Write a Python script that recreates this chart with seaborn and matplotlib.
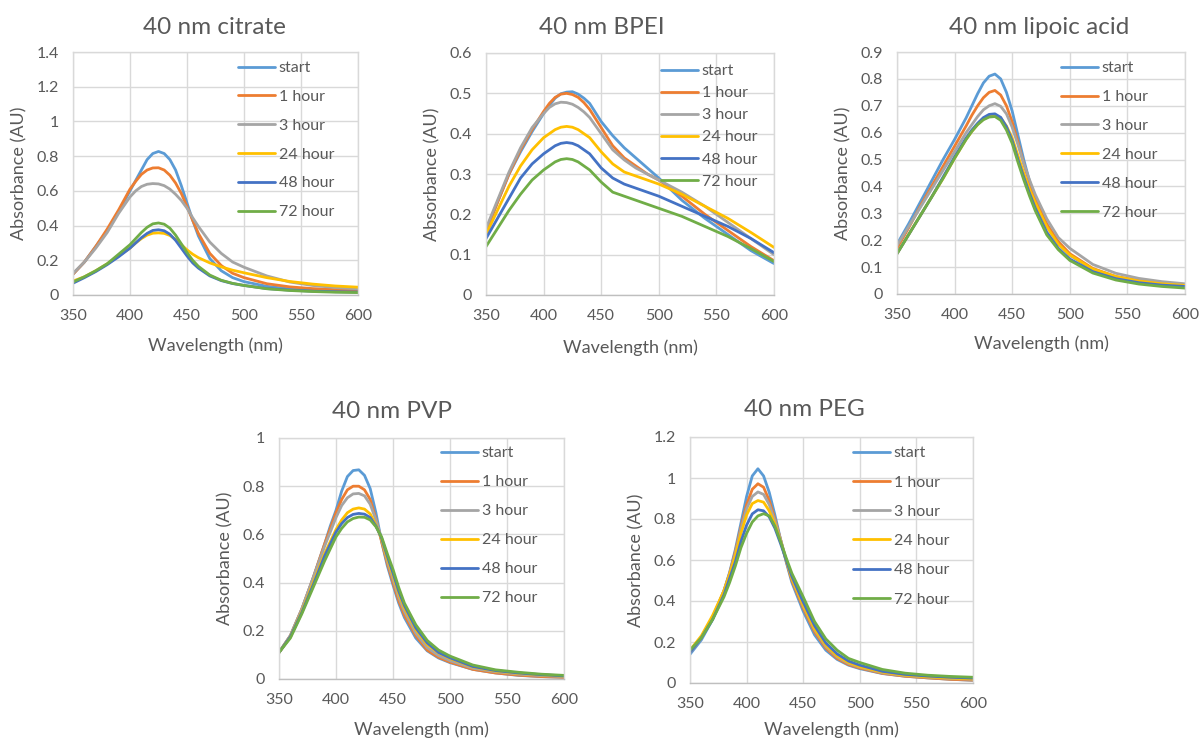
import matplotlib
matplotlib.use("Agg")
import matplotlib.pyplot as plt
import numpy as np
import pandas as pd
import seaborn as sns

# ==========================================
# Data (absorbance)
# ==========================================

TIMES = ["start", "1 hour", "3 hour", "24 hour", "48 hour", "72 hour"]
COLORS = ["#5B9BD5", "#ED7D31", "#A5A5A5", "#FFC000", "#4472C4", "#70AD47"]
X_TICKS = [350, 400, 450, 500, 550, 600]

CITRATE_NM = [350, 360, 370, 380, 390, 400, 405, 410, 415, 420, 425, 430, 435, 440,
              445, 450, 455, 460, 470, 480, 490, 500, 520, 540, 560, 580, 600]
CITRATE_START = [0.12, 0.19, 0.28, 0.37, 0.48, 0.60, 0.66, 0.72, 0.78, 0.815, 0.827, 0.815, 0.78, 0.72,
                 0.63, 0.53, 0.43, 0.34, 0.21, 0.14, 0.10, 0.077, 0.05, 0.035, 0.028, 0.023, 0.02]
CITRATE_1H = [0.12, 0.19, 0.28, 0.38, 0.49, 0.61, 0.655, 0.695, 0.72, 0.732, 0.733, 0.72, 0.69, 0.645,
              0.585, 0.51, 0.43, 0.355, 0.24, 0.17, 0.125, 0.10, 0.065, 0.047, 0.037, 0.031, 0.028]
CITRATE_3H = [0.125, 0.19, 0.27, 0.36, 0.47, 0.565, 0.60, 0.625, 0.638, 0.642, 0.64, 0.63, 0.61, 0.58,
              0.545, 0.50, 0.445, 0.395, 0.305, 0.24, 0.19, 0.16, 0.11, 0.075, 0.055, 0.043, 0.035]
CITRATE_24H = [0.08, 0.105, 0.14, 0.18, 0.225, 0.27, 0.30, 0.325, 0.345, 0.356, 0.358, 0.355, 0.343, 0.32,
               0.29, 0.26, 0.235, 0.215, 0.185, 0.162, 0.143, 0.128, 0.10, 0.078, 0.063, 0.052, 0.045]
CITRATE_48H = [0.068, 0.10, 0.135, 0.175, 0.22, 0.27, 0.30, 0.33, 0.355, 0.372, 0.376, 0.37, 0.35, 0.315,
               0.27, 0.225, 0.185, 0.155, 0.11, 0.083, 0.066, 0.055, 0.037, 0.028, 0.022, 0.019, 0.017]
CITRATE_72H = [0.075, 0.105, 0.14, 0.18, 0.235, 0.29, 0.325, 0.36, 0.39, 0.41, 0.415, 0.408, 0.385, 0.345,
               0.295, 0.245, 0.20, 0.165, 0.115, 0.085, 0.067, 0.055, 0.036, 0.026, 0.02, 0.016, 0.014]

BPEI_NM = [350, 360, 370, 380, 390, 400, 405, 410, 415, 420, 425, 430, 435, 440,
           450, 460, 470, 480, 490, 500, 520, 540, 560, 580, 600]
BPEI_START = [0.155, 0.23, 0.30, 0.355, 0.405, 0.45, 0.47, 0.488, 0.499, 0.503, 0.504, 0.498, 0.488, 0.475,
              0.43, 0.395, 0.365, 0.34, 0.315, 0.29, 0.235, 0.19, 0.15, 0.11, 0.078]
BPEI_1H = [0.16, 0.23, 0.30, 0.36, 0.41, 0.455, 0.475, 0.49, 0.498, 0.50, 0.497, 0.49, 0.477, 0.46,
           0.415, 0.37, 0.34, 0.32, 0.30, 0.285, 0.245, 0.20, 0.16, 0.12, 0.085]
BPEI_3H = [0.165, 0.235, 0.305, 0.365, 0.415, 0.45, 0.465, 0.474, 0.478, 0.477, 0.473, 0.465, 0.454, 0.44,
           0.40, 0.36, 0.335, 0.315, 0.30, 0.285, 0.255, 0.22, 0.18, 0.14, 0.10]
BPEI_24H = [0.15, 0.21, 0.27, 0.32, 0.36, 0.39, 0.40, 0.41, 0.416, 0.418, 0.416, 0.41, 0.40, 0.39,
            0.355, 0.325, 0.305, 0.295, 0.285, 0.275, 0.25, 0.22, 0.19, 0.155, 0.118]
BPEI_48H = [0.14, 0.19, 0.24, 0.29, 0.325, 0.35, 0.36, 0.37, 0.376, 0.378, 0.376, 0.37, 0.36, 0.35,
            0.315, 0.29, 0.275, 0.265, 0.255, 0.245, 0.22, 0.195, 0.17, 0.14, 0.105]
BPEI_72H = [0.12, 0.165, 0.21, 0.25, 0.285, 0.31, 0.32, 0.33, 0.336, 0.338, 0.336, 0.33, 0.32, 0.31,
            0.28, 0.255, 0.245, 0.235, 0.225, 0.215, 0.195, 0.17, 0.145, 0.115, 0.083]

LIPOIC_NM = [350, 360, 370, 380, 390, 400, 410, 415, 420, 425, 430, 435, 440, 445,
             450, 455, 460, 465, 470, 480, 490, 500, 520, 540, 560, 580, 600]
LIPOIC_START = [0.185, 0.26, 0.34, 0.42, 0.50, 0.575, 0.655, 0.70, 0.745, 0.785, 0.81, 0.818, 0.80, 0.75,
                0.68, 0.59, 0.50, 0.42, 0.355, 0.26, 0.19, 0.145, 0.09, 0.062, 0.048, 0.04, 0.035]
LIPOIC_1H = [0.17, 0.245, 0.325, 0.40, 0.475, 0.55, 0.625, 0.665, 0.70, 0.73, 0.75, 0.757, 0.74, 0.70,
             0.64, 0.565, 0.485, 0.415, 0.355, 0.26, 0.195, 0.15, 0.095, 0.065, 0.05, 0.04, 0.035]
LIPOIC_3H = [0.18, 0.25, 0.32, 0.39, 0.46, 0.53, 0.60, 0.63, 0.66, 0.685, 0.70, 0.708, 0.698, 0.67,
             0.62, 0.555, 0.485, 0.425, 0.37, 0.28, 0.21, 0.17, 0.11, 0.077, 0.058, 0.046, 0.038]
LIPOIC_24H = [0.15, 0.22, 0.29, 0.36, 0.43, 0.505, 0.575, 0.605, 0.63, 0.65, 0.662, 0.665, 0.655, 0.625,
              0.58, 0.515, 0.45, 0.39, 0.34, 0.25, 0.185, 0.145, 0.093, 0.065, 0.048, 0.038, 0.032]
LIPOIC_48H = [0.15, 0.22, 0.29, 0.36, 0.435, 0.51, 0.58, 0.61, 0.635, 0.656, 0.668, 0.67, 0.657, 0.622,
              0.57, 0.50, 0.435, 0.375, 0.32, 0.23, 0.17, 0.13, 0.083, 0.057, 0.042, 0.033, 0.028]
LIPOIC_72H = [0.15, 0.22, 0.29, 0.36, 0.43, 0.505, 0.575, 0.605, 0.63, 0.648, 0.658, 0.66, 0.646, 0.61,
              0.56, 0.49, 0.425, 0.365, 0.31, 0.22, 0.165, 0.125, 0.078, 0.052, 0.037, 0.028, 0.022]

PVP_NM = [350, 360, 370, 380, 390, 395, 400, 405, 410, 415, 420, 425, 430, 435,
          440, 445, 450, 455, 460, 470, 480, 490, 500, 520, 540, 560, 580, 600]
PVP_START = [0.11, 0.18, 0.29, 0.42, 0.56, 0.635, 0.70, 0.78, 0.84, 0.865, 0.868, 0.845, 0.79, 0.69,
             0.57, 0.47, 0.39, 0.315, 0.255, 0.17, 0.117, 0.087, 0.068, 0.04, 0.025, 0.015, 0.01, 0.007]
PVP_1H = [0.11, 0.18, 0.29, 0.42, 0.56, 0.625, 0.69, 0.745, 0.785, 0.80, 0.80, 0.785, 0.745, 0.665,
          0.57, 0.48, 0.40, 0.325, 0.265, 0.18, 0.12, 0.09, 0.07, 0.04, 0.025, 0.016, 0.01, 0.007]
PVP_3H = [0.11, 0.18, 0.29, 0.42, 0.55, 0.61, 0.67, 0.72, 0.752, 0.768, 0.77, 0.76, 0.725, 0.66,
          0.58, 0.49, 0.415, 0.34, 0.28, 0.19, 0.13, 0.097, 0.076, 0.045, 0.03, 0.02, 0.014, 0.01]
PVP_24H = [0.11, 0.175, 0.28, 0.40, 0.52, 0.57, 0.62, 0.66, 0.69, 0.705, 0.71, 0.705, 0.685, 0.64,
           0.58, 0.50, 0.43, 0.355, 0.295, 0.205, 0.143, 0.108, 0.085, 0.05, 0.033, 0.023, 0.017, 0.012]
PVP_48H = [0.11, 0.175, 0.275, 0.39, 0.51, 0.56, 0.61, 0.645, 0.67, 0.683, 0.687, 0.684, 0.67, 0.635,
           0.585, 0.51, 0.44, 0.365, 0.305, 0.212, 0.15, 0.11, 0.088, 0.052, 0.035, 0.025, 0.018, 0.013]
PVP_72H = [0.11, 0.17, 0.27, 0.38, 0.49, 0.54, 0.59, 0.625, 0.652, 0.666, 0.672, 0.671, 0.66, 0.632,
           0.59, 0.52, 0.455, 0.38, 0.315, 0.225, 0.16, 0.12, 0.095, 0.058, 0.038, 0.028, 0.02, 0.015]

PEG_NM = [350, 360, 370, 380, 385, 390, 395, 400, 405, 410, 415, 420, 425, 430,
          435, 440, 450, 460, 470, 480, 490, 500, 520, 540, 560, 580, 600]
PEG_START = [0.14, 0.21, 0.31, 0.45, 0.54, 0.65, 0.78, 0.91, 1.01, 1.045, 1.01, 0.93, 0.82, 0.70,
             0.59, 0.49, 0.35, 0.235, 0.16, 0.115, 0.087, 0.07, 0.046, 0.033, 0.025, 0.018, 0.013]
PEG_1H = [0.15, 0.22, 0.32, 0.45, 0.535, 0.64, 0.76, 0.87, 0.945, 0.972, 0.955, 0.89, 0.80, 0.70,
          0.595, 0.50, 0.365, 0.25, 0.17, 0.12, 0.09, 0.073, 0.047, 0.033, 0.025, 0.018, 0.014]
PEG_3H = [0.15, 0.22, 0.32, 0.45, 0.53, 0.63, 0.75, 0.85, 0.91, 0.932, 0.92, 0.87, 0.79, 0.70,
          0.60, 0.51, 0.375, 0.26, 0.178, 0.127, 0.095, 0.077, 0.05, 0.036, 0.028, 0.022, 0.018]
PEG_24H = [0.16, 0.23, 0.33, 0.45, 0.53, 0.62, 0.73, 0.82, 0.875, 0.89, 0.882, 0.84, 0.775, 0.69,
           0.60, 0.51, 0.38, 0.265, 0.185, 0.132, 0.10, 0.08, 0.053, 0.038, 0.03, 0.024, 0.02]
PEG_48H = [0.15, 0.22, 0.31, 0.43, 0.51, 0.59, 0.69, 0.77, 0.825, 0.845, 0.84, 0.81, 0.755, 0.68,
           0.60, 0.52, 0.395, 0.28, 0.195, 0.142, 0.107, 0.087, 0.057, 0.042, 0.034, 0.028, 0.024]
PEG_72H = [0.16, 0.22, 0.31, 0.42, 0.49, 0.57, 0.66, 0.73, 0.785, 0.815, 0.826, 0.815, 0.765, 0.69,
           0.61, 0.535, 0.42, 0.30, 0.215, 0.16, 0.12, 0.10, 0.066, 0.048, 0.038, 0.032, 0.028]

# ==========================================
# Layout (pixels in the 1199 x 740 canvas)
# ==========================================

W, H = 1199, 740
TEXT = "#595959"
GRID = "#D9D9D9"
FONT = ["Lato", "DejaVu Sans"]
LEGEND_PT = 11.5
ROW_H = 13.9  # legend row height in px at LEGEND_PT


def draw_panel(fig, title, nm, series, ymax, ystep,
               box, title_xy, legend_xy, pitch, xlabel_gap):
    left, top, right, bottom = box
    ax = fig.add_axes([left / W, 1 - bottom / H,
                       (right - left) / W, (bottom - top) / H])

    df = pd.DataFrame({
        "nm": np.tile(nm, len(TIMES)),
        "absorbance": np.concatenate(series),
        "time": np.repeat(TIMES, len(nm)),
    })

    sns.lineplot(
        data=df, x="nm", y="absorbance", hue="time",
        hue_order=TIMES, palette=COLORS, linewidth=2.0, ax=ax,
    )
    for line in ax.get_lines():
        line.set_solid_joinstyle("round")

    ax.set_xlim(350, 600)
    ax.set_ylim(0, ymax)
    ax.set_xticks(X_TICKS)
    yticks = np.round(np.arange(0, ymax + ystep / 2, ystep), 2)
    ax.set_yticks(yticks)
    ax.set_yticklabels([f"{v:g}" for v in yticks])

    ax.grid(True, color=GRID, linewidth=1.0)
    ax.set_axisbelow(True)
    for spine in ax.spines.values():
        spine.set_color(GRID)
        spine.set_linewidth(1.0)
    ax.spines["bottom"].set_color("#BFBFBF")

    ax.tick_params(length=0, pad=10, labelsize=11.5, colors=TEXT)
    ax.set_xlabel("Wavelength (nm)", fontsize=13, color=TEXT)
    ax.set_ylabel("Absorbance (AU)", fontsize=13, color=TEXT)
    ax.xaxis.set_label_coords(0.5, -xlabel_gap / (bottom - top))
    ax.yaxis.set_label_coords(-46 / (right - left), 0.5)

    fig.text(title_xy[0] / W, 1 - title_xy[1] / H, title,
             ha="center", va="center", fontsize=17.5, color=TEXT)

    handles, labels = ax.get_legend_handles_labels()
    fs_px = LEGEND_PT * 100 / 72
    ax.legend(
        handles, labels,
        loc="upper left",
        bbox_to_anchor=(legend_xy[0] / W, 1 - (legend_xy[1] - ROW_H / 2) / H),
        bbox_transform=fig.transFigure,
        frameon=False, fontsize=LEGEND_PT, labelcolor=TEXT,
        borderpad=0, borderaxespad=0,
        handlelength=2.3, handletextpad=0.25,
        labelspacing=(pitch - ROW_H) / fs_px,
    )
    return ax


def main():
    sns.set_theme(style="white")
    plt.rcParams["font.family"] = FONT

    fig = plt.figure(figsize=(W / 100, H / 100), dpi=100)

    draw_panel(
        fig, "40 nm citrate", CITRATE_NM,
        [CITRATE_START, CITRATE_1H, CITRATE_3H, CITRATE_24H, CITRATE_48H, CITRATE_72H],
        1.4, 0.2, (73, 52, 358, 295), (214, 28), (238, 68), 28.5, 42,
    )
    draw_panel(
        fig, "40 nm BPEI", BPEI_NM,
        [BPEI_START, BPEI_1H, BPEI_3H, BPEI_24H, BPEI_48H, BPEI_72H],
        0.6, 0.1, (486, 53, 774, 295), (602, 28), (661, 71), 21.8, 44,
    )
    draw_panel(
        fig, "40 nm lipoic acid", LIPOIC_NM,
        [LIPOIC_START, LIPOIC_1H, LIPOIC_3H, LIPOIC_24H, LIPOIC_48H, LIPOIC_72H],
        0.9, 0.1, (897, 52, 1185, 294), (1039, 28), (1061, 68), 28.6, 41,
    )
    draw_panel(
        fig, "40 nm PVP", PVP_NM,
        [PVP_START, PVP_1H, PVP_3H, PVP_24H, PVP_48H, PVP_72H],
        1.0, 0.2, (279, 438, 564, 679), (392, 412), (441, 453), 28.7, 42,
    )
    draw_panel(
        fig, "40 nm PEG", PEG_NM,
        [PEG_START, PEG_1H, PEG_3H, PEG_24H, PEG_48H, PEG_72H],
        1.2, 0.2, (690, 437, 973, 683), (804, 410), (853, 453), 29.0, 38,
    )

    fig.savefig("out.png", dpi=100, facecolor="white")
    plt.close(fig)


if __name__ == "__main__":
    main()
